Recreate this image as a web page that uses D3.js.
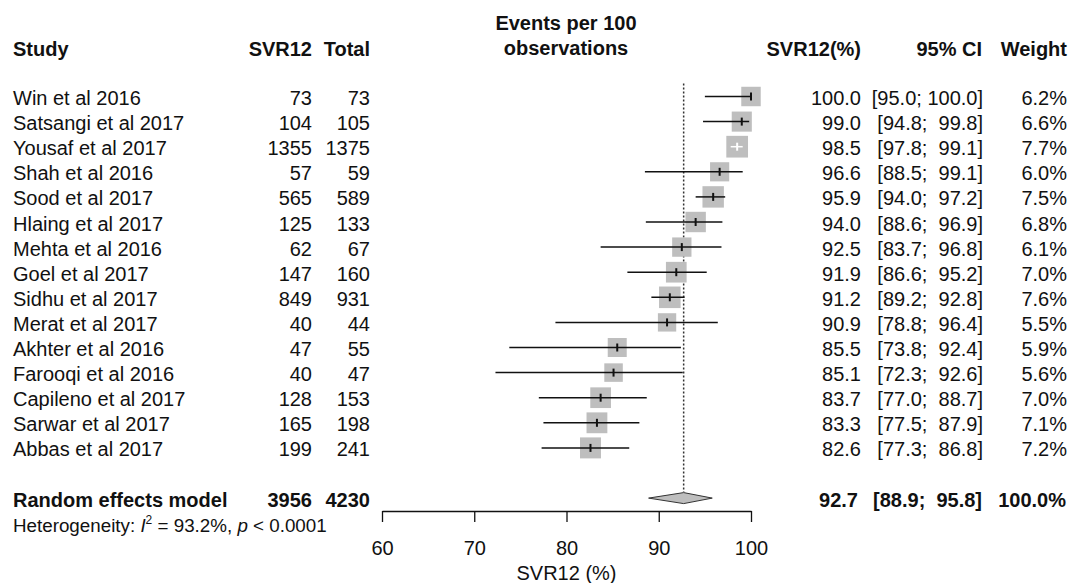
<!DOCTYPE html>
<html lang="en">
<head>
    <meta charset="UTF-8">
    <title>Forest plot SVR12</title>
    <style>
        body { margin: 0; background: #fff; }
        svg text {
            font-family: "Liberation Sans", Arial, sans-serif;
            font-size: 20px;
            fill: #111;
            white-space: pre;
        }
        .bold { font-weight: bold; }
        .ci line { stroke: #111; stroke-width: 1.5px; }
    </style>
    <script src="https://d3js.org/d3.v7.min.js"></script>
</head>
<body>
<script>
    const studies = ["Win et al 2016", "Satsangi et al 2017", "Yousaf et al 2017", "Shah et al 2016",
        "Sood et al 2017", "Hlaing et al 2017", "Mehta et al 2016", "Goel et al 2017", "Sidhu et al 2017",
        "Merat et al 2017", "Akhter et al 2016", "Farooqi et al 2016", "Capileno et al 2017",
        "Sarwar et al 2017", "Abbas et al 2017"];
    const events = [73, 104, 1355, 57, 565, 125, 62, 147, 849, 40, 47, 40, 128, 165, 199];
    const totals = [73, 105, 1375, 59, 589, 133, 67, 160, 931, 44, 55, 47, 153, 198, 241];
    const svr = [100.0, 99.0, 98.5, 96.6, 95.9, 94.0, 92.5, 91.9, 91.2, 90.9, 85.5, 85.1, 83.7, 83.3, 82.6];
    const lower = [95.0, 94.8, 97.8, 88.5, 94.0, 88.6, 83.7, 86.6, 89.2, 78.8, 73.8, 72.3, 77.0, 77.5, 77.3];
    const upper = [100.0, 99.8, 99.1, 99.1, 97.2, 96.9, 96.8, 95.2, 92.8, 96.4, 92.4, 92.6, 88.7, 87.9, 86.8];
    const weights = [6.2, 6.6, 7.7, 6.0, 7.5, 6.8, 6.1, 7.0, 7.6, 5.5, 5.9, 5.6, 7.0, 7.1, 7.2];

    const pooled = { events: 3956, total: 4230, est: 92.7, lo: 88.9, hi: 95.8, weight: 100.0 };
    const heterogeneity = { i2: "93.2%", p: "0.0001" };
    const xTicks = [60, 70, 80, 90, 100];

    const width = 1071, height = 583;
    const svg = d3.select("body").append("svg")
        .attr("width", width).attr("height", height);

    const x = d3.scaleLinear().domain([60, 100]).range([382, 751]);
    // row index -> vertical centre
    const y = d3.scaleLinear().domain([0, 1]).range([96.5, 121.6]);
    const boxSide = w => 7.82 * Math.sqrt(w);

    const rows = studies.map((s, i) => ({
        study: s, ev: events[i], n: totals[i], est: svr[i],
        lo: lower[i], hi: upper[i], w: weights[i], i: i
    }));

    const fmt1 = d3.format(".1f");
    const ciText = (lo, hi) => "[" + fmt1(lo) + "; " + (hi < 100 ? " " : "") + fmt1(hi) + "]";

    // headers
    const head = svg.append("g");
    head.append("text").attr("x", 13).attr("y", 56).text("Study");
    head.append("text").attr("x", 312).attr("y", 56).attr("text-anchor", "end").text("SVR12");
    head.append("text").attr("x", 370).attr("y", 56).attr("text-anchor", "end").text("Total");
    head.append("text").attr("x", 566).attr("y", 30).attr("text-anchor", "middle").text("Events per 100");
    head.append("text").attr("x", 566).attr("y", 55).attr("text-anchor", "middle").text("observations");
    head.append("text").attr("x", 861).attr("y", 56).attr("text-anchor", "end").text("SVR12(%)");
    head.append("text").attr("x", 982).attr("y", 56).attr("text-anchor", "end").text("95% CI");
    head.append("text").attr("x", 1067).attr("y", 56).attr("text-anchor", "end").text("Weight");
    head.selectAll("text").classed("bold", true);

    // left and right table columns
    const table = svg.append("g");
    const cols = [
        { x: 13, anchor: "start", val: d => d.study },
        { x: 312, anchor: "end", val: d => d.ev },
        { x: 370, anchor: "end", val: d => d.n },
        { x: 861, anchor: "end", val: d => fmt1(d.est) },
        { x: 983, anchor: "end", val: d => ciText(d.lo, d.hi) },
        { x: 1067, anchor: "end", val: d => fmt1(d.w) + "%" }
    ];
    cols.forEach(c => {
        table.selectAll(null).data(rows).enter().append("text")
            .attr("x", c.x).attr("y", d => y(d.i) + 8.5)
            .attr("text-anchor", c.anchor)
            .text(c.val);
    });

    // reference line at pooled estimate
    const pooledRow = 16;
    svg.append("line")
        .attr("x1", x(pooled.est)).attr("x2", x(pooled.est))
        .attr("y1", y(0) - 13).attr("y2", y(pooledRow) - 6)
        .attr("stroke", "#333").attr("stroke-width", 1.5)
        .attr("stroke-dasharray", "2,2");

    // squares + CIs
    const marks = svg.append("g").attr("class", "ci");
    const g = marks.selectAll("g").data(rows).enter().append("g");
    g.append("rect")
        .attr("x", d => x(d.est) - boxSide(d.w) / 2)
        .attr("y", d => y(d.i) - boxSide(d.w) / 2)
        .attr("width", d => boxSide(d.w))
        .attr("height", d => boxSide(d.w))
        .attr("fill", "#bebebe");
    const inside = d => x(d.lo) >= x(d.est) - boxSide(d.w) / 2 && x(d.hi) <= x(d.est) + boxSide(d.w) / 2;
    g.append("line")
        .attr("x1", d => x(d.lo)).attr("x2", d => x(d.hi))
        .attr("y1", d => y(d.i)).attr("y2", d => y(d.i))
        .style("stroke", d => inside(d) ? "#fff" : "#111");
    g.append("line")
        .attr("x1", d => x(d.est)).attr("x2", d => x(d.est))
        .attr("y1", d => y(d.i) - 4).attr("y2", d => y(d.i) + 4)
        .style("stroke", d => inside(d) ? "#fff" : "#111")
        .style("stroke-width", "2px");

    // pooled row
    const py = y(pooledRow);
    const pooledG = svg.append("g");
    [
        { x: 13, anchor: "start", t: "Random effects model" },
        { x: 312, anchor: "end", t: pooled.events },
        { x: 370, anchor: "end", t: pooled.total },
        { x: 858, anchor: "end", t: fmt1(pooled.est) },
        { x: 982, anchor: "end", t: "[" + fmt1(pooled.lo) + ";  " + fmt1(pooled.hi) + "]" },
        { x: 1066, anchor: "end", t: fmt1(pooled.weight) + "%" }
    ].forEach(c => {
        pooledG.append("text").attr("class", "bold")
            .attr("x", c.x).attr("y", py + 9).attr("text-anchor", c.anchor).text(c.t);
    });
    svg.append("path")
        .attr("d", `M${x(pooled.lo)},${py} L${x(pooled.est)},${py - 5.5} L${x(pooled.hi)},${py} L${x(pooled.est)},${py + 5.5}Z`)
        .attr("fill", "#bebebe").attr("stroke", "#333").attr("stroke-width", 1);

    // heterogeneity
    const het = svg.append("text").attr("x", 13).attr("y", py + 34).style("font-size", "18.8px");
    het.append("tspan").text("Heterogeneity: ");
    het.append("tspan").style("font-style", "italic").text("I");
    het.append("tspan").attr("dy", -8).style("font-size", "12px").text("2");
    het.append("tspan").attr("dy", 8).text(" = " + heterogeneity.i2 + ", ");
    het.append("tspan").style("font-style", "italic").text("p");
    het.append("tspan").text(" < " + heterogeneity.p);

    // x axis
    const axis = svg.append("g").attr("transform", "translate(0,511)")
        .call(d3.axisBottom(x).tickValues(xTicks).tickSize(11).tickPadding(19).tickSizeOuter(0));
    axis.select(".domain").attr("stroke", "#111").attr("stroke-width", 1.3);
    axis.selectAll(".tick line").attr("stroke", "#111").attr("stroke-width", 1.3);
    axis.selectAll(".tick text").style("font-size", "20px").style("font-family", null).attr("fill", "#111");
    svg.append("text").attr("x", x(80)).attr("y", 580).attr("text-anchor", "middle").text("SVR12 (%)");
</script>
</body>
</html>
